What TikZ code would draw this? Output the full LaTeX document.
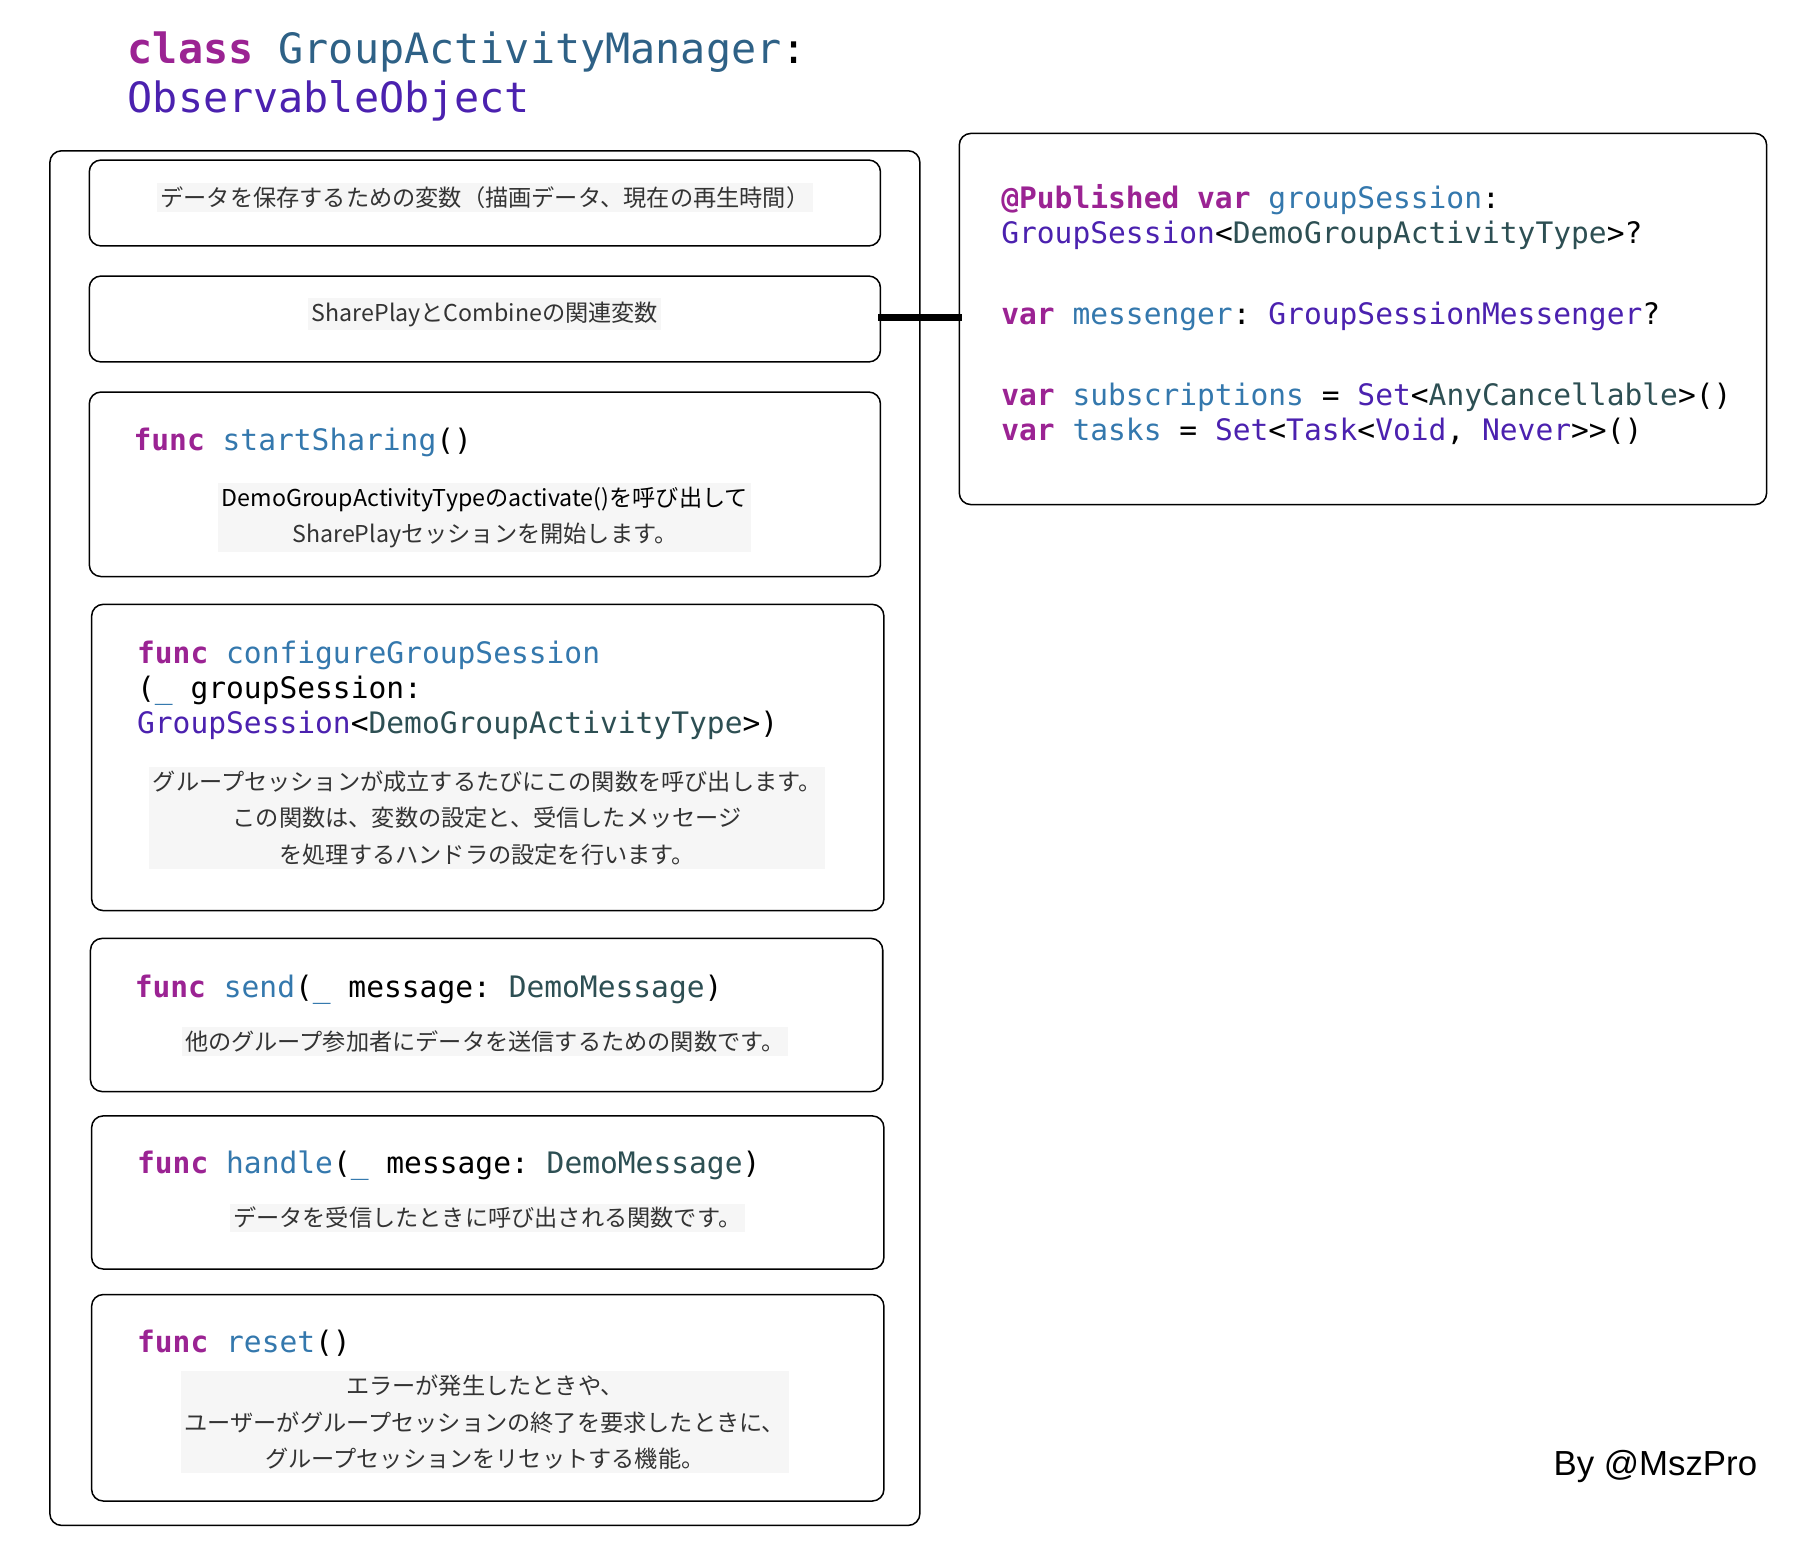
\documentclass[tikz,border=0pt]{standalone}
\usepackage{fontspec}
\setmonofont{DejaVu Sans Mono}
\setmainfont{Liberation Sans}
\newfontfamily\jp{Noto Sans CJK JP}
\definecolor{kw}{HTML}{9B2393}
\definecolor{dc}{HTML}{3478AD}
\definecolor{tt}{HTML}{2E6186}
\definecolor{st}{HTML}{4B21AF}
\definecolor{pt}{HTML}{2D4F53}
\definecolor{bgc}{HTML}{F6F6F6}
\definecolor{jt}{HTML}{333333}
\newcommand{\K}[1]{\textcolor{kw}{\bfseries #1}}
\newcommand{\D}[1]{\textcolor{dc}{#1}}
\newcommand{\ST}[1]{\textcolor{st}{#1}}
\newcommand{\PT}[1]{\textcolor{pt}{#1}}
\begin{document}
\begin{tikzpicture}[x=1pt,y=-1pt,
  box/.style={draw=black,line width=1.3pt,rounded corners=10pt},
  code/.style={anchor=base west,inner sep=0pt,font=\ttfamily\fontsize{25.5}{30}\selectfont,align=left},
  jpt/.style={fill=bgc,inner sep=3pt,text=jt,font=\jp\fontsize{20}{31.5}\selectfont,align=center}]
\useasboundingbox (0,0) rectangle (1569,1336);
\node[code,font=\ttfamily\fontsize{36}{42}\selectfont] (t1) at (110,55) {\K{class} \textcolor{tt}{GroupActivityManager}:};
\node[code,font=\ttfamily\fontsize{36}{42}\selectfont] (t2) at (110,97) {\ST{ObservableObject}};
\draw[box] (43,130) rectangle (793,1315);
\draw[box] (77,138) rectangle (759,212);
\node[jpt] (j1) at (418,170) {データを保存するための変数（描画データ、現在の再生時間）};
\draw[box] (77,238) rectangle (759,312);
\node[jpt] (j2) at (418,271) {SharePlayとCombineの関連変数};
\draw[box] (77,338) rectangle (759,497);
\node[code] (c3) at (115,388) {\K{func} \D{startSharing}()};
\node[jpt] (j3) at (418,446) {\textcolor{black}{DemoGroupActivityTypeのactivate()を呼び出して}\\SharePlayセッションを開始します。};
\draw[box] (79,521) rectangle (762,785);
\node[code] (c4) at (118,632) {\K{func} \D{configureGroupSession}\\(\D{\_} groupSession:\\\ST{GroupSession}<\PT{DemoGroupActivityType}>)};
\node[jpt] (j4) at (420,705) {グループセッションが成立するたびにこの関数を呼び出します。\\この関数は、変数の設定と、受信したメッセージ\\を処理するハンドラの設定を行います。};
\draw[box] (78,809) rectangle (761,941);
\node[code] (c5) at (116,860) {\K{func} \D{send}(\D{\_} message: \PT{DemoMessage})};
\node[jpt] (j5) at (418,898) {他のグループ参加者にデータを送信するための関数です。};
\draw[box] (79,962) rectangle (762,1094);
\node[code] (c6) at (118,1012) {\K{func} \D{handle}(\D{\_} message: \PT{DemoMessage})};
\node[jpt] (j6) at (420,1050) {データを受信したときに呼び出される関数です。};
\draw[box] (79,1116) rectangle (762,1294);
\node[code] (c7) at (118,1166) {\K{func} \D{reset}()};
\node[jpt] (j7) at (418,1226) {エラーが発生したときや、\\ユーザーがグループセッションの終了を要求したときに、\\グループセッションをリセットする機能。};
\draw[box] (827,115) rectangle (1523,435);
\node[code] (r1) at (863,210) {\K{@Published} \K{var} \D{groupSession}:\\\ST{GroupSession}<\PT{DemoGroupActivityType}>?};
\node[code] (r2) at (863,280) {\K{var} \D{messenger}: \ST{GroupSessionMessenger}?};
\node[code] (r3) at (863,380) {\K{var} \D{subscriptions} = \ST{Set}<\PT{AnyCancellable}>()\\\K{var} \D{tasks} = \ST{Set}<\ST{Task}<\ST{Void}, \ST{Never}>>()};
\coordinate (a) at (757,274);
\coordinate (b) at (829,274);
\draw[line width=6pt] (a) -- (b);
\node[anchor=base east,inner sep=0pt,font=\fontsize{30}{36}\selectfont] (by) at (1515,1272) {By @MszPro};
\end{tikzpicture}
\end{document}
